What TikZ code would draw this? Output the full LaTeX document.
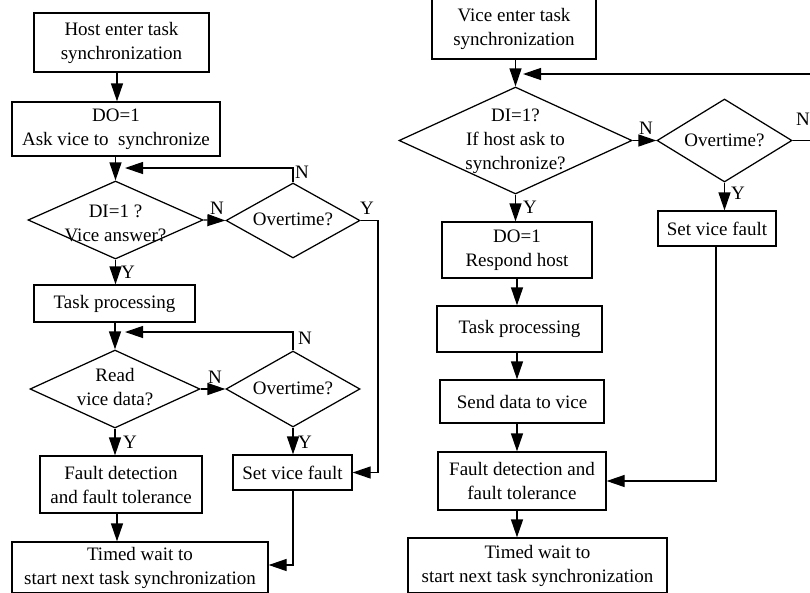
\documentclass[tikz,border=0pt]{standalone}
\usepackage{fontspec}
\setmainfont{Liberation Serif}
\usetikzlibrary{shapes.geometric,arrows.meta}
\newcommand\myfs{\fontsize{19}{24}\selectfont}
\begin{document}
\begin{tikzpicture}[x=1pt,y=-1pt,
  every node/.style={font=\myfs},
  box/.style={draw,line width=1.25pt,align=center,inner sep=0pt},
  dia/.style={draw,diamond,line width=1.25pt,inner sep=0pt},
  txt/.style={align=center,inner sep=0pt},
  lab/.style={inner sep=0pt},
  arr/.style={line width=1.25pt,-{Triangle[length=18pt,width=12pt]}}]
\useasboundingbox (0,0) rectangle (810,592);
\clip (0,0) rectangle (810,592);
% left column
\node[box,minimum width=175pt,minimum height=59pt] (h1) at (121.5,42.5) {Host enter task\\synchronization};
\node[box,minimum width=208pt,minimum height=54pt] (h2) at (116,129) {DO=1\\Ask vice to~ synchronize};
\node[dia,minimum width=175pt,minimum height=78pt] (d1) at (115.5,220) {};
\node[txt] (d1t) at (115.5,223) {DI=1 ?\\Vice answer?};
\node[dia,minimum width=134pt,minimum height=75pt] (o1) at (293,220.5) {};
\node[txt] (o1t) at (293,219) {Overtime?};
\node[box,minimum width=161pt,minimum height=37pt] (tp1) at (114.5,303.5) {Task processing};
\node[dia,minimum width=170pt,minimum height=78pt] (d2) at (115,389) {};
\node[txt] (d2t) at (115,387) {Read\\vice data?};
\node[dia,minimum width=134pt,minimum height=76pt] (o2) at (293,389) {};
\node[txt] (o2t) at (293,388) {Overtime?};
\node[box,minimum width=119pt,minimum height=35pt] (sv1) at (292.5,472.5) {Set vice fault};
\node[box,minimum width=162pt,minimum height=57pt] (fd1) at (121,484.5) {Fault detection\\and fault tolerance};
\node[box,minimum width=256pt,minimum height=51pt] (tw1) at (140,567.5) {Timed wait to\\start next task synchronization};
% right column
\node[box,minimum width=164pt,minimum height=61pt] (v1) at (514,28.5) {Vice enter task\\synchronization};
\node[dia,minimum width=233pt,minimum height=107pt] (d3) at (515.5,140.5) {};
\node[txt] (d3t) at (515.5,141) {DI=1?\\If host ask to\\synchronize?};
\node[dia,minimum width=135pt,minimum height=83pt] (o3) at (724.5,140.5) {};
\node[txt] (o3t) at (724.5,140) {Overtime?};
\node[box,minimum width=118pt,minimum height=35pt] (sv2) at (717,228.5) {Set vice fault};
\node[box,minimum width=150pt,minimum height=56pt] (r1) at (517,250) {DO=1\\Respond host};
\node[box,minimum width=165pt,minimum height=46pt] (tp2) at (519.5,329) {Task processing};
\node[box,minimum width=164pt,minimum height=43pt] (sd2) at (522,401.5) {Send data to vice};
\node[box,minimum width=168pt,minimum height=58pt] (fd2) at (522,481) {Fault detection and\\fault tolerance};
\node[box,minimum width=259pt,minimum height=55pt] (tw2) at (537.5,565.5) {Timed wait to\\start next task synchronization};
% helper coordinates
\coordinate (cL) at (117,0);
\coordinate (cR) at (517,0);
\coordinate (l1) at (125,168);
\coordinate (y1) at (378,0);
\coordinate (l2) at (125,332);
\coordinate (b1) at (293,565);
\coordinate (l3) at (523,74);
\coordinate (r3) at (840,0);
\coordinate (b2) at (716,481);
% left connectors
\draw[arr] (h1.south -| cL) -- (h2.north -| cL);
\draw[arr] (h2.south -| d1.north) -- (d1.north);
\draw[arr] (d1.east) -- (o1.west);
\draw[arr] (o1.north) |- (l1);
\draw[arr] (o1.east) -| (y1 |- sv1.east) -- (sv1.east);
\draw[arr] (d1.south) -- (d1.south |- tp1.north);
\draw[arr] (tp1.south -| d2.north) -- (d2.north);
\draw[arr] (d2.east) -- (o2.west);
\draw[arr] (o2.north) |- (l2);
\draw[arr] (o2.south) -- (o2.south |- sv1.north);
\draw[arr] (d2.south) -- (d2.south |- fd1.north);
\draw[arr] (fd1.south -| cL) -- (tw1.north -| cL);
\draw[arr] (sv1.south -| b1) -- (b1) -- (b1 -| tw1.east);
% right connectors
\draw[arr] (v1.south -| d3.north) -- (d3.north);
\draw[arr] (d3.east) -- (o3.west);
\draw[arr] (o3.east) -| (r3 |- l3) -- (l3);
\draw[arr] (o3.south) -- (o3.south |- sv2.north);
\draw[arr] (d3.south) -- (d3.south |- r1.north);
\draw[arr] (r1.south -| cR) -- (tp2.north -| cR);
\draw[arr] (tp2.south -| cR) -- (sd2.north -| cR);
\draw[arr] (sd2.south -| cR) -- (fd2.north -| cR);
\draw[arr] (fd2.south -| cR) -- (tw2.north -| cR);
\draw[arr] (sv2.south -| b2) -- (b2) -- (fd2.east);
% labels
\node[lab] (n1) at (217,208) {N};
\node[lab] (n2) at (302,172) {N};
\node[lab] (ya) at (367,208) {Y};
\node[lab] (yb) at (128,272) {Y};
\node[lab] (n3) at (215,377) {N};
\node[lab] (n4) at (305,338) {N};
\node[lab] (yc) at (130,442) {Y};
\node[lab] (yd) at (305,442) {Y};
\node[lab] (n5) at (646,128) {N};
\node[lab] (ye) at (530,207) {Y};
\node[lab] (yf) at (738,193) {Y};
\node[lab] (n6) at (803,119) {N};
\end{tikzpicture}
\end{document}
